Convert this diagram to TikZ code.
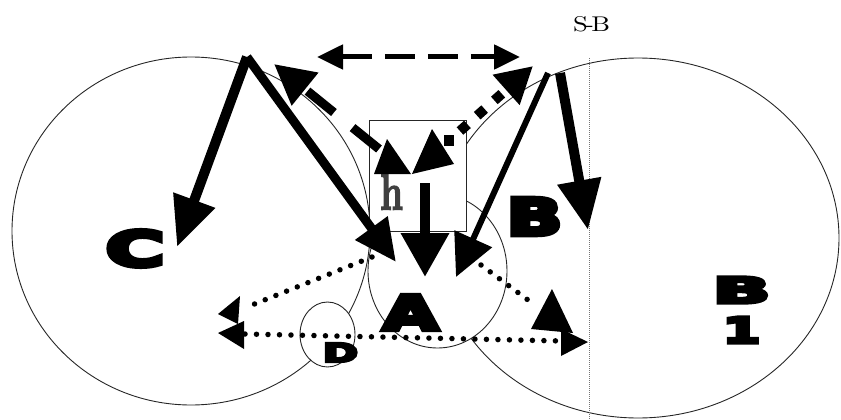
\documentclass[tikz,border=0pt]{standalone}
\usepackage{fontspec}
\newfontfamily\heavyfont{DejaVu Sans Bold}[FakeBold=9]
\newfontfamily\hfont{Latin Modern Roman}[FakeBold=3]
\usetikzlibrary{arrows.meta}
\tikzset{
  circ/.style={draw=black!85, line width=0.9pt},
  whitecirc/.style={circ, fill=white},
  box/.style={draw=black!85, line width=0.9pt, fill=white},
  bigarrow/.style={line width=10pt, -{Triangle[length=50pt,width=42pt]}},
  medarrow/.style={line width=9pt, -{Triangle[length=42pt,width=38pt]}},
  thinarrow/.style={line width=6pt, -{Triangle[length=42pt,width=40pt]}},
  dasharrow/.style={line width=5pt, dash pattern=on 30pt off 13pt, {Triangle[length=26pt,width=24pt]}-{Triangle[length=26pt,width=24pt]}},
  dasharrowb/.style={line width=9pt, dash pattern=on 34pt off 24pt, -{Triangle[length=40pt,width=40pt]}},
  squaredots/.style={line width=10pt, dash pattern=on 10pt off 13pt, -{Triangle[length=36pt,width=38pt]}},
  rounddots/.style={line width=5.5pt, line cap=round, dash pattern=on 0pt off 11.5pt},
  lbl/.style={inner sep=0pt, outer sep=0pt},
  sbline/.style={draw=black!55, line width=0.8pt, dash pattern=on 1pt off 1pt},
}
\newcommand{\heavy}[3]{\resizebox{#1pt}{#2pt}{\heavyfont #3}}
\begin{document}
\begin{tikzpicture}[x=1pt,y=-1pt]
\path[use as bounding box] (0,0) rectangle (841,420);
% big circles
\draw[circ] (191,231) ellipse [x radius=179pt, y radius=174pt];
\draw[circ] (638,238) ellipse [x radius=201pt, y radius=180pt];
% S-B line
\draw[sbline] (589,58) -- (589,420);
% A circle, D circle, box
\draw[whitecirc] (437.5,271) ellipse [x radius=69.5pt, y radius=77pt];
\draw[whitecirc] (327.5,334.5) ellipse [x radius=27.5pt, y radius=32.5pt];
\draw[box] (369,120) rectangle (466,231);
% coordinates
\coordinate (P1) at (247,57);
\coordinate (P2) at (548,73);
\coordinate (P2b) at (560,73);
\coordinate (Ctip) at (177,247);
\coordinate (A1) at (396,262);
\coordinate (A2) at (425,277);
\coordinate (A3) at (456,277);
\coordinate (Bdn) at (588,230);
\coordinate (BoxV) at (425,183);
\coordinate (DL) at (317,57);
\coordinate (DR) at (520,57);
\coordinate (BoxL) at (379,149);
\coordinate (P1h) at (274,64);
\coordinate (BoxR) at (460,131);
\coordinate (P2h) at (533,66);
\coordinate (Aleft) at (372,257);
\coordinate (Ltip1) at (218,314);
\coordinate (Ltip2) at (218,333);
\coordinate (Rtip) at (588,342);
\coordinate (Adot) at (481,265);
\coordinate (Tdot) at (532,303);
% labels
\node[lbl] (labC) at (135,248.5) {\heavy{58}{36}{C}};
\node[lbl] (labA) at (410.5,312.5) {\heavy{55}{35}{A}};
\node[lbl] (labB) at (534.5,216.5) {\heavy{55}{37}{B}};
\node[lbl] (labB1) at (741.5,290) {\heavy{57}{26}{B}};
\node[lbl] (lab1) at (741.5,330) {\heavy{37}{26}{1}};
\node[lbl] (labD) at (340.5,352.5) {\heavy{35}{19}{D}};
\node[lbl, text=black!75] (labh) at (391.5,191.5) {\resizebox{23pt}{36pt}{\hfont\bfseries h}};
\node[lbl] (labSB) at (591.5,24.5) {\resizebox{37pt}{15pt}{S\kern-1pt-\kern-1pt B}};
% solid arrows
\draw[bigarrow] (P1) -- (Ctip);
\draw[medarrow] (P1) -- (A1);
\draw[thinarrow] (P2) -- (A3);
\draw[bigarrow] (P2b) -- (Bdn);
\draw[line width=10pt, -{Triangle[length=44pt,width=46pt]}] (BoxV) -- (A2);
% dashed arrows
\draw[dasharrow] (DL) -- (DR);
\draw[dasharrowb] (BoxL) -- (P1h);
\draw[squaredots] (BoxR) -- (P2h);
% upward heads inside the box
\fill (387,139) -- (374,174) -- (411,174) -- cycle;
\fill (432,129) -- (412,174) -- (454,164) -- cycle;
\fill (444,135) rectangle (454,146);
% dotted arrows
\draw[rounddots] (Aleft) -- (252,305);
\fill (Ltip1) -- (240,296) -- (238,324) -- cycle;
\draw[rounddots] (245,334) -- (562,341);
\fill (Ltip2) -- (244,321) -- (244,349) -- cycle;
\fill (Rtip) -- (561,329) -- (561,356) -- cycle;
\draw[rounddots] (Adot) -- (Tdot);
\fill (552,289) -- (531,329) -- (573,333) -- cycle;
\end{tikzpicture}
\end{document}
